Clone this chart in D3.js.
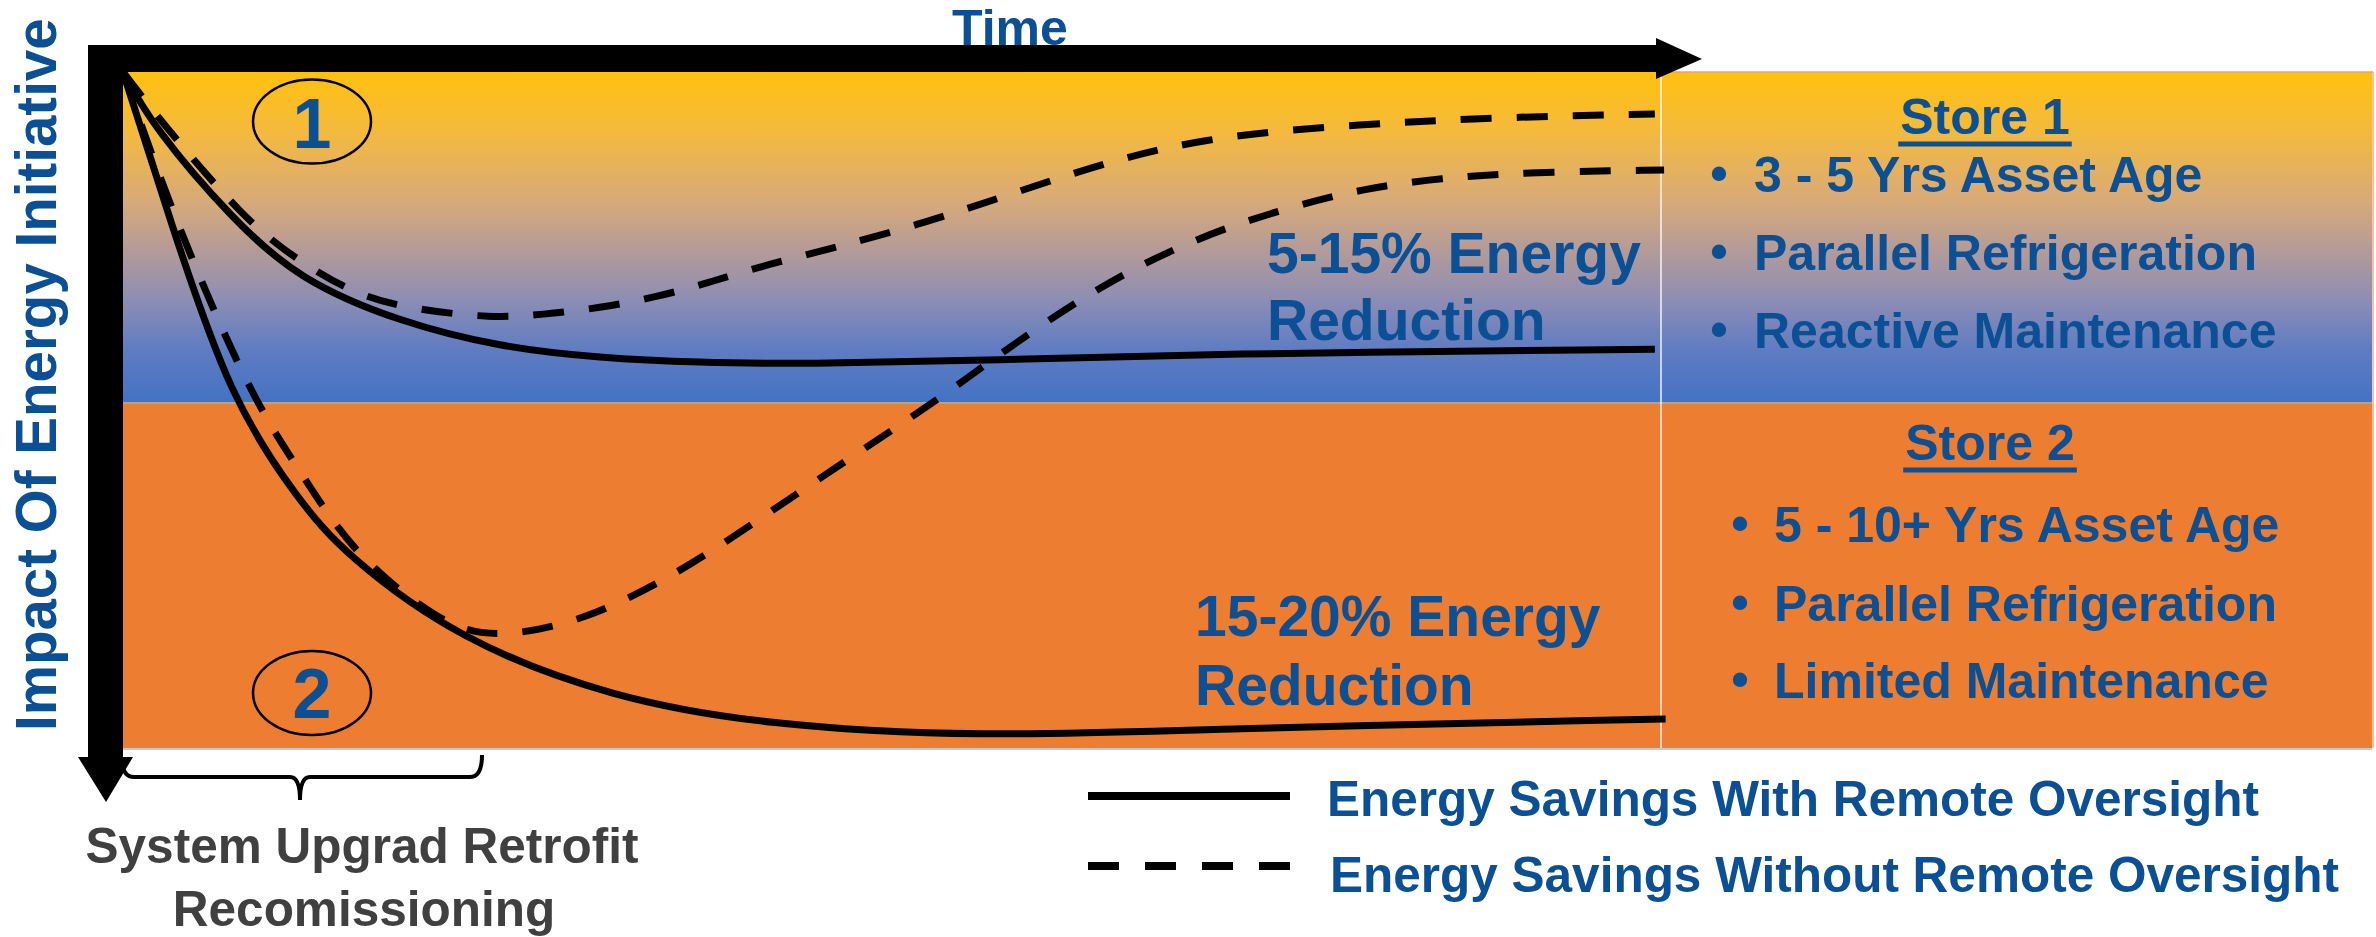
<!DOCTYPE html>
<html>
<head>
<meta charset="utf-8">
<script src="https://cdn.jsdelivr.net/npm/d3@7"></script>
<style>
  html, body { margin: 0; padding: 0; background: #ffffff; }
  svg { display: block; }
  text { font-family: "Liberation Sans", Arial, sans-serif; font-weight: bold; }
</style>
</head>
<body>
<svg id="chart" width="2376" height="937"></svg>
<script>
// ---------- data (time 0..100, impact 0..100 downward) ----------
const store1With = [[0,0],[1.95,8.1],[7.15,21.9],[11.5,30.8],[18.0,37.0],[24.5,40.7],[31.0,42.3],[37.5,43.0],[44.0,43.2],[57.0,42.6],[70.0,41.7],[99.6,41.0]];
const store1Without = [[0,0],[2.4,7.1],[7.9,21.9],[11.5,28.1],[15.4,33.3],[19.3,35.2],[23.9,36.4],[27.3,35.9],[31.0,34.9],[34.7,33.3],[38.2,31.1],[41.6,28.6],[51.7,22.9],[61.6,14.9],[70.0,9.6],[80.7,7.7],[89.5,6.7],[99.6,6.2]];
const store2With = [[0,0],[3.06,21.9],[6.96,48.5],[11.5,63.6],[14.4,71.3],[21.8,84.0],[31.8,92.6],[41.7,96.6],[55.7,98.4],[70.0,97.2],[100.3,95.7]];
const store2Without = [[0,0],[3.25,21.4],[8.4,48.5],[11.5,58.9],[14.9,71.3],[20.9,82.0],[24.3,83.7],[29.8,81.5],[36.8,73.4],[44.2,61.7],[52.7,49.0],[56.5,42.5],[63.5,31.5],[70.0,24.3],[75.7,20.1],[80.7,17.2],[85.6,15.7],[91.5,14.8],[100.2,14.5]];

const xAxisTitle = "Time";
const yAxisTitle = "Impact Of Energy Initiative";
const circleLabels = ["1", "2"];
const reductionLabels = [["5-15% Energy", "Reduction"], ["15-20% Energy", "Reduction"]];
const storeTitles = ["Store 1", "Store 2"];
const store1Bullets = ["3 - 5 Yrs Asset Age", "Parallel Refrigeration", "Reactive Maintenance"];
const store2Bullets = ["5 - 10+ Yrs Asset Age", "Parallel Refrigeration", "Limited Maintenance"];
const bracketLabel = ["System Upgrad Retrofit", "Recomissioning"];
const legendLabels = ["Energy Savings With Remote Oversight", "Energy Savings Without Remote Oversight"];

// ---------- layout ----------
const svg = d3.select("#chart");
const x = d3.scaleLinear().domain([0, 100]).range([123, 1661]);
const y = d3.scaleLinear().domain([0, 100]).range([72, 748]);
const BLUE = "#0B4F94";

const defs = svg.append("defs");
const grad = defs.append("linearGradient").attr("id", "topGrad")
  .attr("x1", 0).attr("y1", 0).attr("x2", 0).attr("y2", 1);
[[0, "#FFC10E"], [0.175, "#F5BA3C"], [0.387, "#D8AA78"], [0.538, "#B49B98"], [0.69, "#8D8DB4"], [0.84, "#5F7CC2"], [1, "#4472C4"]]
  .forEach(([o, c]) => grad.append("stop").attr("offset", o).attr("stop-color", c));

const bandSplit = 403;
// bands
svg.append("rect").attr("x", 123).attr("y", 72).attr("width", 2372 - 123).attr("height", bandSplit - 72)
  .attr("fill", "url(#topGrad)");
svg.append("rect").attr("x", 123).attr("y", bandSplit).attr("width", 2372 - 123).attr("height", 748 - bandSplit)
  .attr("fill", "#ED7D31");
svg.append("line").attr("x1", 123).attr("x2", 2372).attr("y1", bandSplit).attr("y2", bandSplit)
  .attr("stroke", "#A5A5A5").attr("stroke-width", 2);
svg.append("line").attr("x1", 88).attr("x2", 2372).attr("y1", 749).attr("y2", 749)
  .attr("stroke", "#C8C8C8").attr("stroke-width", 2);
svg.append("line").attr("x1", 2373).attr("x2", 2373).attr("y1", 72).attr("y2", 748)
  .attr("stroke", "#F4B183").attr("stroke-width", 1.5);
svg.append("line").attr("x1", 1658).attr("x2", 2373).attr("y1", 72).attr("y2", 72)
  .attr("stroke", "#F4A060").attr("stroke-width", 1.5);
// divider
svg.append("line").attr("x1", 1661).attr("x2", 1661).attr("y1", 72).attr("y2", 748)
  .attr("stroke", "#ffffff").attr("stroke-width", 1.5).attr("opacity", 0.9);

// curves
const line = d3.line().x(d => x(d[0])).y(d => y(d[1])).curve(d3.curveBasis);
const series = [
  { data: store1With, dash: null },
  { data: store1Without, dash: "31,25" },
  { data: store2With, dash: null },
  { data: store2Without, dash: "31,25" }
];
svg.append("g").selectAll("path").data(series).join("path")
  .attr("d", d => line(d.data))
  .attr("fill", "none").attr("stroke", "#000").attr("stroke-width", 7)
  .attr("stroke-dasharray", d => d.dash)
  .attr("stroke-linecap", "butt").attr("stroke-linejoin", "round");

// bracket
svg.append("path")
  .attr("d", "M122,758 Q122,777 134,777 L290,777 Q300,777 300,800 Q300,777 310,777 L470,777 Q482,777 482,755")
  .attr("fill", "none").attr("stroke", "#000").attr("stroke-width", 4);

// axes arrows
svg.append("rect").attr("x", 88).attr("y", 45).attr("width", 1658 - 88).attr("height", 27).attr("fill", "#000");
svg.append("polygon").attr("points", "1656,38 1656,79 1702,59").attr("fill", "#000");
svg.append("rect").attr("x", 88).attr("y", 45).attr("width", 35).attr("height", 757 - 45).attr("fill", "#000");
svg.append("polygon").attr("points", "78,757 133,757 106,802").attr("fill", "#000");

// axis titles
svg.append("text").attr("x", 1010).attr("y", 45).attr("text-anchor", "middle").attr("font-size", 50)
  .attr("fill", BLUE).text(xAxisTitle);
svg.append("text").attr("transform", "translate(56,731) rotate(-90)").attr("font-size", 56.5)
  .attr("fill", BLUE).text(yAxisTitle);

// numbered ellipses
const ellipseY = [121.5, 693];
const numBase = [148, 718];
circleLabels.forEach((lab, i) => {
  svg.append("ellipse").attr("cx", 312).attr("cy", ellipseY[i]).attr("rx", 59).attr("ry", 42)
    .attr("fill", "none").attr("stroke", "#000").attr("stroke-width", 2.5);
  svg.append("text").attr("x", 312).attr("y", numBase[i]).attr("text-anchor", "middle")
    .attr("font-size", 70).attr("fill", BLUE).text(lab);
});

// reduction labels
const redPos = [{ x: 1267, y: [273, 340] }, { x: 1195, y: [636, 705] }];
reductionLabels.forEach((lines, i) => {
  lines.forEach((t, j) => {
    svg.append("text").attr("x", redPos[i].x).attr("y", redPos[i].y[j]).attr("font-size", 57)
      .attr("fill", BLUE).text(t);
  });
});

// store panels
const storePanels = [
  { title: storeTitles[0], cx: 1985, ty: 134, ul: 144, bullets: store1Bullets, bx: 1719, tx: 1754, by: [192, 270, 348] },
  { title: storeTitles[1], cx: 1990, ty: 460, ul: 470, bullets: store2Bullets, bx: 1740, tx: 1774, by: [542, 621, 698] }
];
storePanels.forEach(p => {
  const t = svg.append("text").attr("x", p.cx).attr("y", p.ty).attr("text-anchor", "middle")
    .attr("font-size", 50).attr("fill", BLUE).text(p.title);
  const w = t.node().getComputedTextLength();
  svg.append("rect").attr("x", p.cx - w / 2 - 2).attr("y", p.ul - 2.5).attr("width", w + 4).attr("height", 5)
    .attr("fill", BLUE);
  p.bullets.forEach((b, j) => {
    svg.append("text").attr("x", p.bx).attr("y", p.by[j] - 2).attr("text-anchor", "middle")
      .attr("font-size", 50).attr("fill", BLUE).text("\u2022");
    svg.append("text").attr("x", p.tx).attr("y", p.by[j]).attr("font-size", 50)
      .attr("fill", BLUE).text(b);
  });
});

// bracket label
svg.append("text").attr("x", 362).attr("y", 863).attr("text-anchor", "middle").attr("font-size", 49.5)
  .attr("fill", "#404040").text(bracketLabel[0]);
svg.append("text").attr("x", 364).attr("y", 926).attr("text-anchor", "middle").attr("font-size", 49.5)
  .attr("fill", "#404040").text(bracketLabel[1]);

// legend
const legendY = [796, 866];
const legendTextY = [816, 892];
const legendDash = [null, "31,26"];
legendLabels.forEach((lab, i) => {
  svg.append("line").attr("x1", 1088).attr("x2", 1290).attr("y1", legendY[i]).attr("y2", legendY[i])
    .attr("stroke", "#000").attr("stroke-width", 8).attr("stroke-dasharray", legendDash[i]);
  svg.append("text").attr("x", i === 0 ? 1327 : 1330).attr("y", legendTextY[i]).attr("font-size", 49.5)
    .attr("fill", BLUE).text(lab);
});
</script>
</body>
</html>
